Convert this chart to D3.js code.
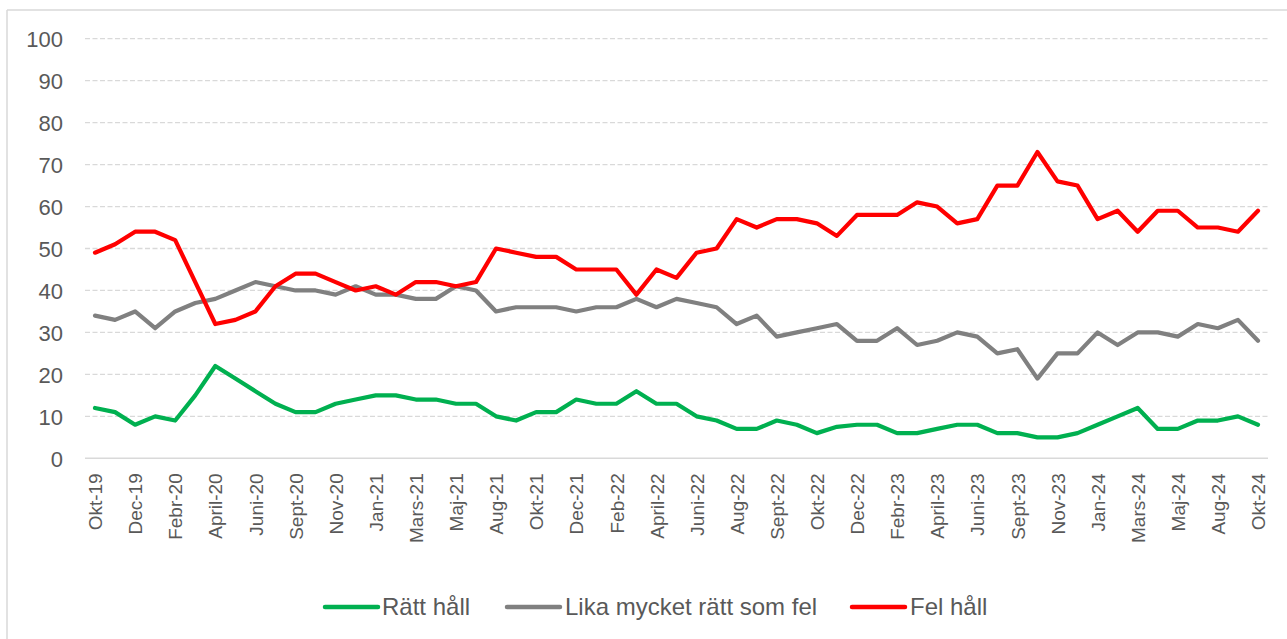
<!DOCTYPE html>
<html>
<head>
<meta charset="utf-8">
<script src="https://cdn.jsdelivr.net/npm/d3@7"></script>
<style>
  html, body { margin: 0; padding: 0; background: #fff; }
  svg { display: block; font-family: "Liberation Sans", Arial, sans-serif; }
</style>
</head>
<body>
<svg id="chart" width="1287" height="639"></svg>
<script>
const categories = [
  "Okt-19","Nov-19","Dec-19","Jan-20","Febr-20","Mars-20","April-20","Maj-20","Juni-20","Aug-20",
  "Sept-20","Okt-20","Nov-20","Dec-20","Jan-21","Feb-21","Mars-21","April-21","Maj-21","Juni-21",
  "Aug-21","Sept-21","Okt-21","Nov-21","Dec-21","Jan-22","Feb-22","Mars-22","April-22","Maj-22",
  "Juni-22","Juli-22","Aug-22","Aug/Sept-22","Sept-22","Sept/Okt-22","Okt-22","Nov-22","Dec-22","Jan-23",
  "Febr-23","Mars-23","April-23","Maj-23","Juni-23","Aug-23","Sept-23","Okt-23","Nov-23","Dec-23",
  "Jan-24","Feb-24","Mars-24","April-24","Maj-24","Juni-24","Aug-24","Sept-24","Okt-24"
];
// every second category carries a visible tick label
const tickLabels = categories.filter((d, i) => i % 2 === 0);

const rattHall = [12,11,8,10,9,15,22,19,16,13,11,11,13,14,15,15,14,
  14,13,13,10,9,11,11,14,13,13,16,13,13,10,9,7,7,9,8,6,
  7.5,8,8,6,6,7,8,8,6,6,5,5,6,8,10,12,7,7,9,9,10,8];
const likaMycket = [34,33,35,31,35,37,38,40,42,41,40,40,39,41,39,39,38,
  38,41,40,35,36,36,36,35,36,36,38,36,38,37,36,32,34,29,30,31,
  32,28,28,31,27,28,30,29,25,26,19,25,25,30,27,30,30,29,32,31,33,28];
const felHall = [49,51,54,54,52,42,32,33,35,41,44,44,42,40,41,39,42,
  42,41,42,50,49,48,48,45,45,45,39,45,43,49,50,57,55,57,57,56,
  53,58,58,58,61,60,56,57,65,65,73,66,65,57,59,54,59,59,55,55,54,59];

const seriesNames = ["Rätt håll", "Lika mycket rätt som fel", "Fel håll"];
const seriesColors = ["#00B050", "#808080", "#FF0000"];
const yTicks = [0,10,20,30,40,50,60,70,80,90,100];

const series = [rattHall, likaMycket, felHall].map((v, k) => ({
  name: seriesNames[k], color: seriesColors[k], values: v
}));

const svg = d3.select("#chart");
const textColor = "#595959";
const gridColor = "#d9d9d9";

// outer frame (left and top edges visible)
svg.append("line").attr("x1", 7).attr("x2", 1287).attr("y1", 10).attr("y2", 10)
  .attr("stroke", gridColor).attr("stroke-width", 1.5);
svg.append("line").attr("x1", 7).attr("x2", 7).attr("y1", 10).attr("y2", 639)
  .attr("stroke", gridColor).attr("stroke-width", 1.5);

const plotLeft = 85, plotRight = 1268;
const x = d3.scalePoint().domain(categories).range([95, 1258]);
const y = d3.scaleLinear().domain([0, 100]).range([458.3, 38.7]);

// gridlines
svg.append("g").selectAll("line").data(yTicks.filter(d => d > 0)).join("line")
  .attr("x1", plotLeft).attr("x2", plotRight)
  .attr("y1", d => y(d)).attr("y2", d => y(d))
  .attr("stroke", gridColor).attr("stroke-width", 1.3)
  .attr("stroke-dasharray", "5,2.5");

// y axis labels
const yAxis = d3.axisLeft(y).tickValues(yTicks).tickSize(0).tickPadding(0);
const gy = svg.append("g").attr("transform", "translate(63,0)").call(yAxis);
gy.select(".domain").remove();
gy.selectAll("text").attr("fill", textColor).style("font-size", "22px")
  .style("font-family", "'Liberation Sans', Arial, sans-serif")
  .attr("dy", "0.35em").attr("text-anchor", "end");

// x axis
const xAxis = d3.axisBottom(x).tickValues(tickLabels).tickSize(0).tickPadding(0);
const gx = svg.append("g").attr("transform", `translate(0,${y(0)})`).call(xAxis);
gx.select(".domain").remove();
svg.append("line").attr("x1", plotLeft).attr("x2", plotRight)
  .attr("y1", y(0)).attr("y2", y(0)).attr("stroke", gridColor).attr("stroke-width", 1.5);
gx.selectAll(".tick text")
  .attr("fill", textColor).style("font-size", "19px")
  .style("font-family", "'Liberation Sans', Arial, sans-serif")
  .attr("text-anchor", "end").attr("x", 0).attr("y", 0).attr("dy", "0.35em")
  .attr("transform", "translate(0,15) rotate(-90)");

// lines
const line = d3.line().x((d, i) => x(categories[i])).y(d => y(d));
svg.append("g").selectAll("path").data(series).join("path")
  .attr("d", d => line(d.values))
  .attr("fill", "none").attr("stroke", d => d.color).attr("stroke-width", 4.2)
  .attr("stroke-linejoin", "round").attr("stroke-linecap", "round");

// legend
const legendItems = [
  { x1: 325, x2: 378, tx: 382 },
  { x1: 507, x2: 560, tx: 565 },
  { x1: 852, x2: 905, tx: 910 }
];
const lg = svg.append("g");
series.forEach((s, k) => {
  const it = legendItems[k];
  lg.append("line").attr("x1", it.x1).attr("x2", it.x2).attr("y1", 607).attr("y2", 607)
    .attr("stroke", s.color).attr("stroke-width", 4.5).attr("stroke-linecap", "round");
  lg.append("text").attr("x", it.tx).attr("y", 607)
    .attr("dy", "0.35em").attr("fill", textColor).style("font-size", "24px")
    .text(s.name);
});
</script>
</body>
</html>
